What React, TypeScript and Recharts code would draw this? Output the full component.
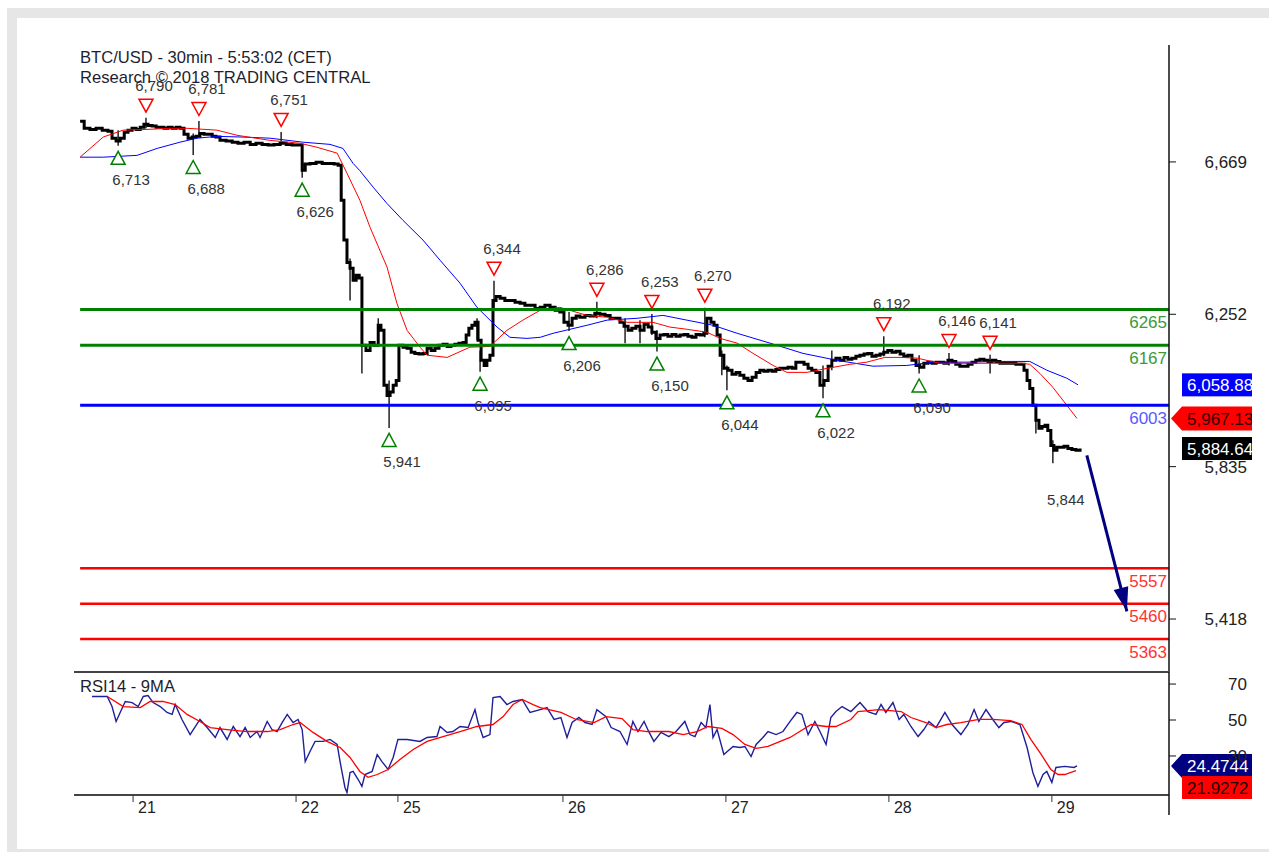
import React from 'react';
import { ComposedChart, Line, XAxis, YAxis, ReferenceLine, ReferenceDot } from 'recharts';

const FONT = '"Liberation Sans", Arial, Helvetica, sans-serif';
const X_DOMAIN: [number, number] = [-1.8, 320.7];
const PRICE_DOMAIN: [number, number] = [5273, 6989];
const RSI_DOMAIN: [number, number] = [8.3, 76.7];

// x = 30-minute bar index
const dayTicks = [15.6, 63.6, 93.6, 142.2, 190.2, 238.2, 286.2];
const dayLabels = ['21', '22', '25', '26', '27', '28', '29'];
const priceTicks = [5418, 5835, 6252, 6669];
const rsiTicks = [30, 50, 70];

const priceT = [
  0, 1.2, 2.9, 4.7, 6.5, 8.2, 9.4, 10.6, 11.8, 13.0,
  14.1, 15.3, 16.5, 17.7, 18.8, 20.0, 21.2, 22.4, 23.6, 24.7,
  25.9, 27.1, 28.3, 29.4, 30.6, 31.8, 33.0, 34.2, 35.3, 36.5,
  37.7, 38.9, 40.0, 41.2, 43.0, 44.8, 46.5, 48.3, 50.1, 51.8,
  53.6, 55.4, 57.1, 58.9, 60.7, 62.4, 64.2, 65.4, 66.3, 67.7,
  69.5, 71.3, 73.0, 74.8, 76.0, 76.9, 77.7, 78.6, 79.5, 80.4,
  81.3, 82.2, 83.0, 84.2, 85.4, 86.6, 87.8, 88.6, 89.5, 90.4,
  91.3, 92.2, 93.1, 93.9, 95.1, 96.3, 97.5, 98.6, 99.8, 101.0,
  102.2, 103.4, 104.5, 105.7, 106.9, 108.1, 109.2, 110.4, 111.6, 112.8,
  113.7, 114.5, 115.4, 116.3, 117.2, 118.1, 119.0, 119.8, 120.7, 121.6,
  122.5, 123.7, 125.1, 126.6, 128.1, 129.6, 131.0, 132.5, 134.0, 135.5,
  136.9, 138.4, 139.9, 141.3, 142.5, 143.7, 144.9, 146.1, 147.2, 148.7,
  150.2, 151.6, 153.1, 154.6, 156.1, 157.5, 159.0, 160.2, 161.4, 162.5,
  163.7, 164.9, 166.1, 167.3, 168.4, 169.6, 170.8, 172.0, 173.1, 174.3,
  175.5, 176.7, 177.9, 179.0, 180.2, 181.4, 182.6, 183.7, 184.6, 185.8,
  186.7, 187.6, 188.5, 189.6, 190.8, 192.0, 193.2, 194.3, 195.5, 196.7,
  197.9, 199.1, 200.2, 201.4, 202.6, 203.8, 204.9, 206.1, 207.3, 208.5,
  209.7, 210.8, 212.0, 213.2, 214.4, 215.5, 216.7, 217.9, 219.1, 220.3,
  221.4, 222.6, 223.8, 225.0, 226.1, 227.3, 228.5, 229.7, 230.9, 232.0,
  233.2, 234.4, 235.6, 236.7, 237.9, 239.1, 240.3, 241.5, 242.6, 243.8,
  245.0, 246.2, 247.3, 248.5, 249.7, 250.9, 252.1, 253.2, 254.4, 255.6,
  256.8, 257.9, 259.1, 260.3, 261.5, 262.7, 263.8, 265.0, 266.2, 267.4,
  268.6, 269.7, 270.9, 272.1, 273.3, 274.4, 275.6, 276.8, 278.0, 278.9,
  279.7, 280.6, 281.5, 282.4, 283.3, 284.2, 285.0, 285.9, 286.8, 287.7,
  288.6, 289.8, 290.9, 292.1, 293.3, 294.5,
];
const priceClose = [
  6780, 6761, 6758, 6761, 6756, 6753, 6734, 6726, 6734, 6750,
  6756, 6761, 6758, 6764, 6772, 6769, 6767, 6764, 6764, 6761,
  6764, 6761, 6764, 6761, 6745, 6734, 6737, 6739, 6747, 6745,
  6745, 6739, 6737, 6728, 6726, 6723, 6720, 6723, 6717, 6720,
  6717, 6715, 6717, 6720, 6717, 6715, 6715, 6646, 6663, 6665,
  6668, 6665, 6665, 6663, 6660, 6564, 6455, 6394, 6378, 6345,
  6359, 6351, 6167, 6153, 6175, 6167, 6222, 6208, 6058, 6030,
  6039, 6058, 6071, 6167, 6162, 6159, 6148, 6145, 6143, 6145,
  6159, 6153, 6159, 6167, 6170, 6164, 6167, 6170, 6173, 6175,
  6195, 6214, 6222, 6230, 6181, 6126, 6112, 6126, 6140, 6290,
  6301, 6296, 6290, 6290, 6285, 6282, 6277, 6277, 6268, 6271,
  6277, 6271, 6263, 6258, 6230, 6222, 6241, 6247, 6244, 6249,
  6247, 6255, 6252, 6249, 6241, 6241, 6230, 6219, 6208, 6214,
  6219, 6208, 6225, 6217, 6203, 6186, 6195, 6197, 6192, 6197,
  6192, 6195, 6197, 6192, 6189, 6197, 6195, 6200, 6241, 6230,
  6222, 6195, 6140, 6104, 6099, 6088, 6093, 6085, 6077, 6071,
  6080, 6093, 6099, 6096, 6099, 6096, 6101, 6104, 6104, 6107,
  6104, 6121, 6121, 6115, 6104, 6099, 6093, 6058, 6071, 6110,
  6126, 6132, 6126, 6134, 6129, 6132, 6137, 6140, 6143, 6145,
  6137, 6140, 6143, 6148, 6153, 6148, 6151, 6143, 6137, 6140,
  6126, 6112, 6107, 6118, 6121, 6118, 6121, 6121, 6118, 6126,
  6123, 6115, 6110, 6110, 6115, 6121, 6126, 6129, 6126, 6123,
  6126, 6123, 6118, 6118, 6118, 6118, 6115, 6115, 6099, 6071,
  6049, 6003, 5962, 5940, 5945, 5948, 5934, 5893, 5880, 5888,
  5888, 5891, 5885, 5882, 5880, 5885,
];

// high/low wicks
const wickT = [11.2, 19.4, 33.3, 35.0, 59.2, 65.4, 79.5, 83.0, 87.8, 91.0, 116.9, 117.8, 121.9, 144.0, 152.2, 160.5, 164.9, 168.4, 169.9, 184.0, 189.0, 190.5, 218.8, 221.4, 236.7, 247.1, 255.9, 268.0, 281.5, 286.5];
const wickLow = [6713, 6761, 6688, 6737, 6715, 6626, 6290, 6090, 6167, 5941, 6181, 6095, 6263, 6206, 6241, 6173, 6173, 6195, 6150, 6189, 6085, 6044, 6022, 6099, 6137, 6090, 6112, 6090, 5926, 5844];
const wickHigh = [6756, 6790, 6747, 6781, 6751, 6715, 6405, 6181, 6241, 6071, 6241, 6153, 6344, 6258, 6286, 6241, 6236, 6253, 6208, 6270, 6153, 6112, 6112, 6153, 6192, 6140, 6146, 6141, 6003, 5907];

// moving averages on price
const fastMaT = [0, 6.8, 12.7, 19.7, 26.5, 31.5, 40.3, 46.2, 55.9, 64.8, 69.8, 75.7, 78.6, 82.4, 85.4, 90.4, 93.3, 96.3, 100.1, 102.2, 108.1, 114.8, 120.7, 125.7, 130.4, 135.5, 141.3, 149.3, 155.2, 161.1, 168.7, 173.7, 178.7, 184.6, 188.5, 193.5, 198.2, 204.1, 208.2, 214.1, 220.0, 226.7, 231.7, 237.0, 241.5, 246.5, 253.2, 261.2, 270.9, 277.4, 279.7, 282.7, 286.5, 290.6, 293.6];
const fastMa = [6682, 6737, 6756, 6758, 6761, 6761, 6756, 6742, 6728, 6720, 6709, 6693, 6638, 6564, 6490, 6381, 6282, 6208, 6162, 6140, 6134, 6162, 6164, 6208, 6236, 6263, 6271, 6249, 6244, 6230, 6230, 6217, 6211, 6203, 6186, 6173, 6145, 6112, 6093, 6093, 6104, 6115, 6121, 6134, 6134, 6132, 6118, 6118, 6118, 6118, 6115, 6090, 6052, 6003, 5967];
const slowMaT = [0, 6.8, 16.8, 22.7, 29.4, 34.5, 40.3, 48.0, 55.9, 65.7, 73.6, 77.4, 80.4, 82.4, 86.3, 90.4, 95.1, 101.0, 106.0, 111.9, 116.9, 122.8, 126.6, 131.6, 135.5, 139.3, 149.3, 155.2, 164.0, 171.7, 178.7, 186.4, 193.5, 203.2, 212.9, 222.9, 233.5, 243.5, 251.2, 261.2, 270.9, 279.7, 284.7, 290.6, 293.9];
const slowMa = [6682, 6682, 6687, 6706, 6723, 6734, 6739, 6737, 6734, 6723, 6717, 6706, 6665, 6645, 6600, 6555, 6509, 6455, 6400, 6337, 6271, 6217, 6189, 6186, 6189, 6200, 6222, 6236, 6241, 6249, 6236, 6222, 6200, 6173, 6145, 6126, 6110, 6112, 6121, 6121, 6123, 6123, 6099, 6077, 6059];

// swing highs / lows
const highT = [19.4, 35.0, 59.2, 121.9, 152.2, 168.4, 184.0, 236.7, 255.9, 268.0];
const highVal = [6790, 6781, 6751, 6344, 6286, 6253, 6270, 6192, 6146, 6141];
const lowT = [11.2, 33.3, 65.4, 91.0, 117.8, 144.0, 169.9, 190.5, 218.8, 247.1];
const lowVal = [6713, 6688, 6626, 5941, 6095, 6206, 6150, 6044, 6022, 6090];
const lastLowT = 286.5;
const lastLowVal = 5844;

// levels
const resistanceLevels = [6265, 6167];
const pivotLevels = [6003];
const supportLevels = [5557, 5460, 5363];

// forecast arrow
const arrowT = [296.5, 308.3];
const arrowPrice = [5866, 5439];

// last values
const lastSlowMa = 6058.88;
const lastFastMa = 5967.13;
const lastClose = 5884.64;

// RSI
const rsiT = [3.5, 8.0, 9.4, 10.6, 11.8, 13.3, 15.3, 17.1, 18.6, 20.0, 21.5, 23.6, 25.6, 27.1, 28.0, 30.0, 32.4, 35.3, 37.4, 39.8, 41.2, 43.3, 45.1, 47.1, 48.6, 50.1, 52.1, 53.0, 55.1, 56.5, 58.0, 59.5, 61.0, 62.7, 64.2, 65.4, 66.3, 67.7, 69.2, 71.6, 73.6, 75.7, 76.6, 78.0, 78.6, 79.5, 80.4, 81.9, 83.0, 83.9, 86.0, 87.5, 88.9, 90.7, 92.2, 93.6, 96.3, 100.1, 102.2, 105.1, 106.0, 108.1, 109.8, 111.9, 114.3, 116.3, 117.2, 118.7, 120.7, 121.6, 123.7, 125.7, 127.5, 130.2, 132.5, 135.5, 137.5, 139.6, 141.6, 143.4, 144.9, 146.9, 148.7, 150.8, 152.2, 154.9, 156.4, 159.0, 161.1, 162.8, 164.3, 166.1, 167.6, 169.0, 171.1, 173.4, 175.5, 178.1, 179.6, 181.1, 182.9, 184.3, 185.5, 186.4, 187.6, 189.6, 192.3, 194.3, 195.8, 197.6, 199.1, 201.1, 202.6, 205.0, 207.0, 209.1, 211.1, 212.6, 214.4, 216.4, 217.9, 219.7, 221.1, 222.6, 224.4, 227.0, 229.7, 232.0, 234.4, 235.9, 237.3, 239.4, 241.2, 242.6, 244.7, 246.8, 248.5, 250.0, 252.1, 254.7, 256.8, 259.4, 261.5, 263.3, 264.7, 266.8, 268.8, 270.6, 272.1, 274.1, 276.8, 278.9, 280.6, 282.1, 283.6, 284.7, 286.2, 287.4, 290.0, 292.7, 293.6];
const rsiVal = [63.1, 63.1, 57.5, 49.2, 54.2, 60.3, 59.7, 57.5, 63.1, 63.6, 59.7, 57.5, 54.2, 53.1, 58.6, 50.3, 41.9, 50.3, 45.8, 40.3, 45.8, 39.2, 46.4, 40.8, 45.8, 40.3, 43.6, 40.3, 49.2, 44.7, 43.6, 48.6, 53.1, 48.6, 50.3, 44.7, 26.9, 32.5, 38.1, 38.1, 39.2, 36.4, 26.4, 12.5, 9.7, 20.8, 21.4, 16.9, 13.1, 19.7, 21.4, 30.8, 26.9, 22.5, 29.2, 39.2, 39.2, 38.1, 40.3, 40.8, 46.4, 43.1, 43.6, 46.4, 45.8, 55.8, 48.6, 40.3, 41.9, 62.5, 63.1, 58.6, 60.3, 61.4, 54.2, 55.8, 56.9, 50.3, 51.4, 40.3, 48.6, 51.4, 48.6, 47.5, 55.8, 51.9, 45.8, 43.6, 36.4, 49.2, 43.6, 49.2, 43.1, 38.1, 43.1, 40.8, 43.6, 49.2, 41.9, 40.8, 48.6, 45.8, 58.6, 40.3, 44.7, 30.8, 35.3, 34.7, 35.3, 29.7, 36.4, 40.3, 43.6, 41.9, 43.6, 49.2, 54.2, 53.1, 41.9, 49.2, 43.6, 36.4, 51.4, 54.7, 57.5, 54.7, 59.7, 54.7, 53.1, 58.6, 54.2, 59.7, 50.3, 53.1, 46.4, 40.8, 44.7, 49.2, 45.8, 54.2, 47.5, 41.9, 47.5, 55.8, 49.2, 55.8, 50.3, 45.8, 48.6, 49.2, 47.5, 34.7, 20.8, 13.1, 19.7, 21.4, 15.3, 23.6, 24.2, 23.6, 24.5];
const rsiMaT = [8.0, 12.7, 17.7, 20.6, 24.4, 28.0, 31.5, 35.3, 38.3, 43.3, 49.2, 55.1, 58.9, 62.7, 64.8, 68.6, 72.7, 76.6, 79.5, 82.4, 84.8, 87.5, 90.7, 94.2, 98.1, 102.2, 106.9, 111.9, 116.9, 121.6, 124.6, 127.5, 130.2, 133.4, 135.5, 141.6, 146.1, 151.4, 154.9, 159.6, 162.8, 167.0, 173.4, 177.6, 181.7, 184.9, 189.0, 192.3, 195.8, 199.1, 202.6, 209.1, 215.3, 219.7, 222.6, 227.0, 229.1, 235.3, 241.8, 244.7, 249.1, 252.1, 255.3, 259.4, 264.7, 268.8, 274.1, 277.4, 280.0, 282.7, 285.9, 288.0, 290.0, 293.3];
const rsiMaVal = [63.1, 57.5, 56.9, 60.3, 60.3, 58.6, 53.1, 49.2, 45.8, 44.7, 43.6, 43.6, 44.7, 47.5, 48.6, 43.1, 38.1, 34.7, 29.2, 21.4, 18.1, 19.7, 22.5, 28.1, 33.6, 38.1, 40.8, 43.6, 46.4, 47.5, 51.9, 58.6, 61.4, 58.6, 56.9, 54.2, 50.3, 48.6, 51.9, 50.8, 44.7, 43.6, 43.6, 41.9, 43.6, 46.4, 45.3, 41.9, 36.4, 34.2, 35.3, 40.3, 47.5, 46.4, 46.4, 50.3, 54.7, 55.8, 54.7, 51.4, 48.6, 45.8, 47.5, 48.6, 50.3, 50.3, 49.7, 47.5, 39.2, 31.9, 22.5, 19.7, 19.7, 21.9];
const lastRsi = 24.4744;
const lastRsiMa = 21.9272;

const rows = (ts: number[], vs: number[]) => ts.map((t, i) => ({ t, v: vs[i] }));
const wickRows = wickT.flatMap((t, i) => [
  { t, v: wickLow[i] as number | null },
  { t, v: wickHigh[i] as number | null },
  { t, v: null as number | null },
]);
const fmt = (v: number) => String(v).replace(/\B(?=(\d{3})+(?!\d))/g, ',');

const PriceTick = (props: any) => (
  <text x={props.x} y={props.y} dy={6} textAnchor="end" fontSize={17} fontFamily={FONT} fill="#222">
    {fmt(props.payload.value)}
  </text>
);
const RsiTick = (props: any) => (
  <text x={props.x} y={props.y} dy={6} textAnchor="end" fontSize={17} fontFamily={FONT} fill="#222">
    {props.payload.value}
  </text>
);
const DayTick = (props: any) => (
  <text x={props.x + 5} y={props.y + 9} textAnchor="start" fontSize={16} fontFamily={FONT} fill="#222">
    {dayLabels[dayTicks.indexOf(props.payload.value)]}
  </text>
);

const ArrowHead = (props: any) => {
  const { cx, cy, index } = props;
  if (index !== arrowT.length - 1 || cx == null) return <g key={'ah' + index} />;
  return (
    <polygon key="ahead" points="0,0 -24,-7.5 -24,7.5" transform={`translate(${cx},${cy}) rotate(75.6)`} fill="#000080" />
  );
};

const highShape = (v: number) => (p: any) => (
  <g>
    <polygon
      points={`${p.cx - 7},${p.cy - 18.5} ${p.cx + 7},${p.cy - 18.5} ${p.cx},${p.cy - 5.5}`}
      fill="#fff" stroke="#ff0000" strokeWidth={1.5}
    />
    <text x={p.cx + 8} y={p.cy - 27} textAnchor="middle" fontSize={15} fontFamily={FONT} fill="#333">{fmt(v)}</text>
  </g>
);
const lowShape = (v: number) => (p: any) => (
  <g>
    <polygon
      points={`${p.cx - 7},${p.cy + 18.5} ${p.cx + 7},${p.cy + 18.5} ${p.cx},${p.cy + 5.5}`}
      fill="#fff" stroke="#008000" strokeWidth={1.5}
    />
    <text x={p.cx + 13} y={p.cy + 39.5} textAnchor="middle" fontSize={15} fontFamily={FONT} fill="#333">{fmt(v)}</text>
  </g>
);
const lastLowShape = (v: number) => (p: any) => (
  <text x={p.cx + 13} y={p.cy + 42} textAnchor="middle" fontSize={15} fontFamily={FONT} fill="#333">{fmt(v)}</text>
);
const levelLabel = (v: number, color: string) => (p: any) => (
  <text x={p.cx - 2} y={p.cy + 18.5} textAnchor="end" fontSize={17} fontFamily={FONT} fill={color}>{v}</text>
);
const valueBox = (text: string, fill: string, color: string, arrow: boolean, dyOff = 0) => (p: any) => {
  const cy = p.cy + dyOff;
  const shape = arrow ? (
    <polygon points={`${p.cx + 2},${cy} ${p.cx + 13},${cy - 12} ${p.cx + 110},${cy - 12} ${p.cx + 110},${cy + 12} ${p.cx + 13},${cy + 12}`} fill={fill} />
  ) : (
    <rect x={p.cx + 13} y={cy - 11.5} width={100} height={23} fill={fill} />
  );
  return (
    <g>
      {shape}
      <text x={p.cx + 18} y={cy + 6.5} fontSize={17} fontFamily={FONT} fill={color}>{text}</text>
    </g>
  );
};

export default function App() {
  const xMax = X_DOMAIN[1];
  return (
    <div style={{ position: 'fixed', left: 0, top: 0, width: 1269, height: 852, background: '#fff', overflow: 'hidden' }}>
      <div style={{ position: 'absolute', left: 7, top: 8, width: 1262, height: 844, background: '#e6e6e6' }} />
      <div style={{ position: 'absolute', left: 17, top: 18, width: 1252, height: 831, background: '#fff' }} />

      <div style={{ position: 'absolute', left: 0, top: 0 }}>
        <ComposedChart width={1252} height={674} margin={{ top: 45, right: 0, bottom: 2, left: 74 }}>
          <XAxis type="number" dataKey="t" domain={X_DOMAIN} hide allowDataOverflow />
          <YAxis
            orientation="right" type="number" domain={PRICE_DOMAIN} ticks={priceTicks} interval={0}
            width={83} allowDataOverflow tickSize={7} tickMargin={71}
            axisLine={{ stroke: '#111', strokeWidth: 1.5 }} tickLine={{ stroke: '#111' }} tick={PriceTick}
          />
          <Line data={wickRows} dataKey="v" type="linear" stroke="#000" strokeWidth={1.3} dot={false} activeDot={false} connectNulls={false} isAnimationActive={false} />
          <Line data={rows(priceT, priceClose)} dataKey="v" type="stepAfter" stroke="#000" strokeWidth={3} dot={false} activeDot={false} isAnimationActive={false} />
          <Line data={rows(slowMaT, slowMa)} dataKey="v" type="linear" stroke="#0000ff" strokeWidth={1} dot={false} activeDot={false} isAnimationActive={false} />
          <Line data={rows(fastMaT, fastMa)} dataKey="v" type="linear" stroke="#ff0000" strokeWidth={1} dot={false} activeDot={false} isAnimationActive={false} />

          {resistanceLevels.map((v) => (
            <ReferenceLine key={'rl' + v} segment={[{ x: 0, y: v }, { x: xMax, y: v }]} stroke="#008000" strokeWidth={3} />
          ))}
          {pivotLevels.map((v) => (
            <ReferenceLine key={'pl' + v} segment={[{ x: 0, y: v }, { x: xMax, y: v }]} stroke="#0000ff" strokeWidth={3} />
          ))}
          {supportLevels.map((v) => (
            <ReferenceLine key={'sl' + v} segment={[{ x: 0, y: v }, { x: xMax, y: v }]} stroke="#ff0000" strokeWidth={2.5} />
          ))}

          <Line data={rows(arrowT, arrowPrice)} dataKey="v" type="linear" stroke="#000080" strokeWidth={3} dot={ArrowHead} activeDot={false} isAnimationActive={false} />

          {highT.map((t, i) => (
            <ReferenceDot key={'h' + i} x={t} y={highVal[i]} r={0} ifOverflow="visible" shape={highShape(highVal[i])} />
          ))}
          {lowT.map((t, i) => (
            <ReferenceDot key={'l' + i} x={t} y={lowVal[i]} r={0} ifOverflow="visible" shape={lowShape(lowVal[i])} />
          ))}
          <ReferenceDot x={lastLowT} y={lastLowVal} r={0} ifOverflow="visible" shape={lastLowShape(lastLowVal)} />

          {resistanceLevels.map((v) => (
            <ReferenceDot key={'rlt' + v} x={xMax} y={v} r={0} ifOverflow="visible" shape={levelLabel(v, '#3a9a3a')} />
          ))}
          {pivotLevels.map((v) => (
            <ReferenceDot key={'plt' + v} x={xMax} y={v} r={0} ifOverflow="visible" shape={levelLabel(v, '#5a5aff')} />
          ))}
          {supportLevels.map((v) => (
            <ReferenceDot key={'slt' + v} x={xMax} y={v} r={0} ifOverflow="visible" shape={levelLabel(v, '#ff3333')} />
          ))}

          <ReferenceDot x={xMax} y={lastSlowMa} r={0} ifOverflow="visible" shape={valueBox('6,058.88', '#0000ff', '#fff', false)} />
          <ReferenceDot x={xMax} y={lastFastMa} r={0} ifOverflow="visible" shape={valueBox('5,967.13', '#ff0000', '#300', true)} />
          <ReferenceDot x={xMax} y={lastClose} r={0} ifOverflow="visible" shape={valueBox('5,884.64', '#000', '#fff', false)} />
        </ComposedChart>
      </div>

      <div style={{ position: 'absolute', left: 0, top: 668 }}>
        <ComposedChart width={1252} height={157} margin={{ top: 4, right: 0, bottom: 0, left: 74 }}>
          <XAxis
            type="number" dataKey="t" domain={X_DOMAIN} ticks={dayTicks} interval={0} height={30}
            tickSize={7} allowDataOverflow axisLine={{ stroke: '#444', strokeWidth: 2 }} tickLine={{ stroke: '#333' }} tick={DayTick}
          />
          <YAxis
            orientation="right" type="number" domain={RSI_DOMAIN} ticks={rsiTicks} interval={0}
            width={83} allowDataOverflow tickSize={7} tickMargin={71}
            axisLine={{ stroke: '#111', strokeWidth: 1.5 }} tickLine={{ stroke: '#111' }} tick={RsiTick}
          />
          <ReferenceLine y={RSI_DOMAIN[1]} stroke="#444" strokeWidth={2} />
          <Line data={rows(rsiT, rsiVal)} dataKey="v" type="linear" stroke="#1f1f99" strokeWidth={1.4} dot={false} activeDot={false} isAnimationActive={false} />
          <Line data={rows(rsiMaT, rsiMaVal)} dataKey="v" type="linear" stroke="#ff0000" strokeWidth={1.3} dot={false} activeDot={false} isAnimationActive={false} />
          <ReferenceDot x={xMax} y={lastRsi} r={0} ifOverflow="visible" shape={valueBox('24.4744', '#000080', '#fff', true)} />
          <ReferenceDot x={xMax} y={lastRsiMa} r={0} ifOverflow="visible" shape={valueBox('21.9272', '#ff0000', '#200', false, 17)} />
        </ComposedChart>
      </div>

      <svg width={1269} height={852} style={{ position: 'absolute', left: 0, top: 0, pointerEvents: 'none' }}>
        <text x={80} y={63} fontSize={16.6} fontFamily={FONT} fill="#1e1e30">BTC/USD - 30min - 5:53:02 (CET)</text>
        <text x={80} y={83} fontSize={16.6} fontFamily={FONT} fill="#1e1e30">Research © 2018 TRADING CENTRAL</text>
        <text x={80} y={692} fontSize={16.6} fontFamily={FONT} fill="#1e1e30">RSI14 - 9MA</text>
        <line x1={1169} y1={795} x2={1169} y2={815} stroke="#111" strokeWidth={1.5} />
      </svg>
    </div>
  );
}
